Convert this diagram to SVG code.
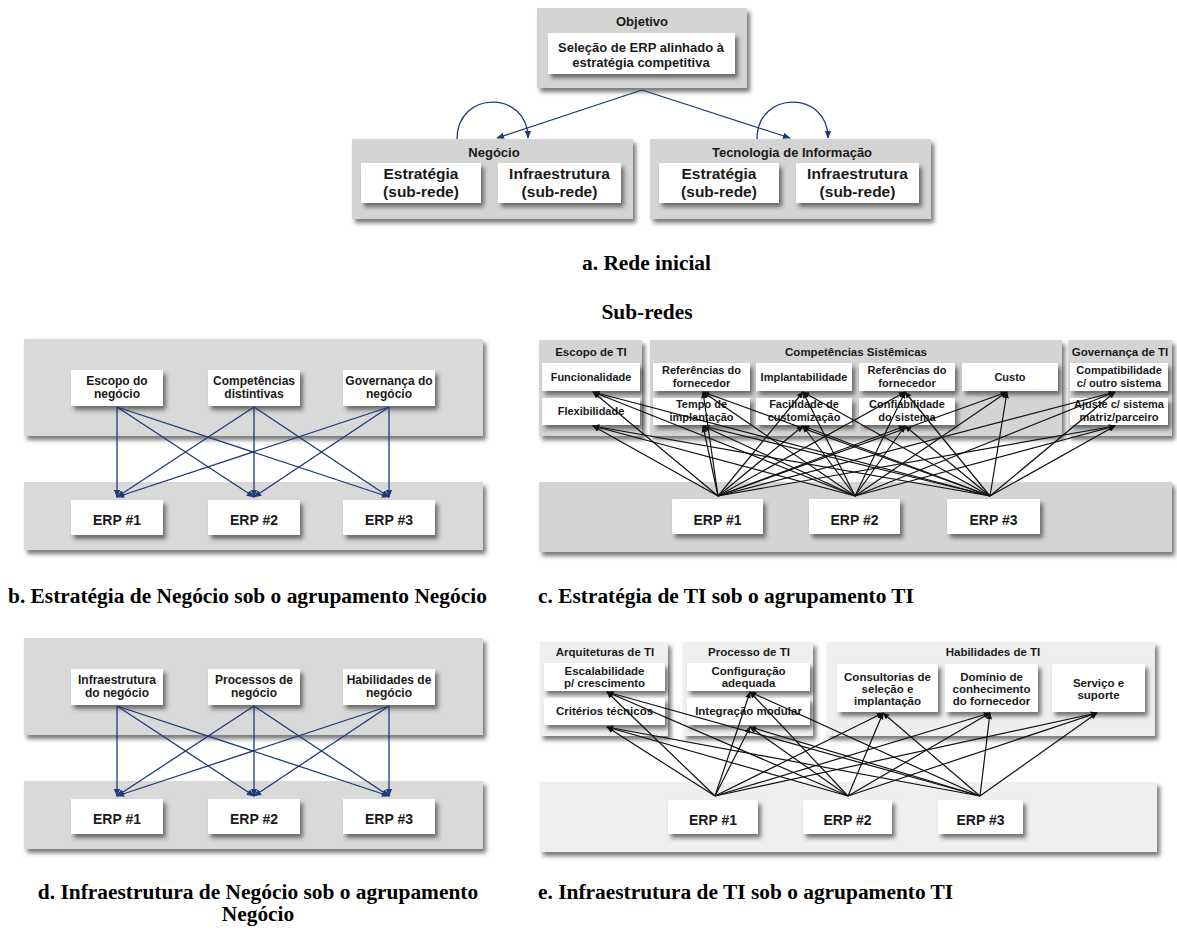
<svg xmlns="http://www.w3.org/2000/svg" width="1177" height="930" viewBox="0 0 1177 930">
<style>
.g{fill:#d4d4d4}
.gb{fill:#d9d9d9}
.ge{fill:#efefef}
.w{fill:#ffffff}
.t{font-family:"Liberation Sans",Arial,sans-serif;font-weight:bold;fill:#1a1a1a;text-anchor:middle}
.cap{font-family:"Liberation Serif","Times New Roman",serif;font-weight:bold;font-size:21.4px;fill:#000}
.nv{stroke:#1f3a78;stroke-width:1.3;fill:none}
.bk{stroke:#111;stroke-width:1.2;fill:none}
</style>
<defs>
<filter id="sh" x="-10%" y="-10%" width="130%" height="140%">
<feDropShadow dx="3" dy="4" stdDeviation="2.2" flood-color="#333" flood-opacity="0.65"/>
</filter>
<marker id="aN" viewBox="0 0 10 10" refX="9" refY="5" markerWidth="8" markerHeight="8" orient="auto" markerUnits="userSpaceOnUse"><path d="M0,1 L10,5 L0,9 z" fill="#1f3a78"/></marker>
<marker id="aK" viewBox="0 0 10 10" refX="9" refY="5" markerWidth="7" markerHeight="7" orient="auto" markerUnits="userSpaceOnUse"><path d="M0,1 L10,5 L0,9 z" fill="#111"/></marker>
</defs>

<!-- ===== a. Rede inicial ===== -->
<g id="objetivo">
<rect class="g" x="537" y="8" width="210" height="80" filter="url(#sh)"/>
<text class="t" x="642" y="25.5" font-size="13">Objetivo</text>
<rect class="w" x="548" y="33" width="187" height="41" filter="url(#sh)"/>
<text class="t" x="641" y="51.5" font-size="13">Seleção de ERP alinhado à</text>
<text class="t" x="641" y="66.5" font-size="13">estratégia competitiva</text>
</g>
<g id="negocio">
<rect class="g" x="352" y="139" width="281" height="80" filter="url(#sh)"/>
<text class="t" x="494" y="156.5" font-size="13">Negócio</text>
<rect class="w" x="361" y="163" width="120" height="40" filter="url(#sh)"/>
<text class="t" x="421" y="178.5" font-size="15.5">Estratégia</text>
<text class="t" x="421" y="197" font-size="15.5">(sub-rede)</text>
<rect class="w" x="498" y="163" width="123" height="40" filter="url(#sh)"/>
<text class="t" x="559.5" y="178.5" font-size="15.5">Infraestrutura</text>
<text class="t" x="559.5" y="197" font-size="15.5">(sub-rede)</text>
</g>
<g id="ti">
<rect class="g" x="650" y="139" width="281" height="80" filter="url(#sh)"/>
<text class="t" x="792" y="156.5" font-size="13">Tecnologia de Informação</text>
<rect class="w" x="659" y="163" width="120" height="40" filter="url(#sh)"/>
<text class="t" x="719" y="178.5" font-size="15.5">Estratégia</text>
<text class="t" x="719" y="197" font-size="15.5">(sub-rede)</text>
<rect class="w" x="796" y="163" width="123" height="40" filter="url(#sh)"/>
<text class="t" x="857.5" y="178.5" font-size="15.5">Infraestrutura</text>
<text class="t" x="857.5" y="197" font-size="15.5">(sub-rede)</text>
</g>
<g id="connectors-a">
<path class="nv" d="M642,90 L497,138" marker-end="url(#aN)"/>
<path class="nv" d="M642,90 L790,138" marker-end="url(#aN)"/>
<path class="nv" d="M457,139 C457,90 528,90 528,138" marker-end="url(#aN)"/>
<path class="nv" d="M757,139 C757,90 828,90 828,138" marker-end="url(#aN)"/>
</g>
<text class="cap" x="646.5" y="270" text-anchor="middle">a. Rede inicial</text>
<text class="cap" x="647" y="319" text-anchor="middle">Sub-redes</text>

<!-- ===== b ===== -->
<g id="b-groups">
<rect class="gb" x="24" y="339" width="459" height="97" filter="url(#sh)"/>
<rect class="gb" x="24" y="482" width="459" height="68" filter="url(#sh)"/>
</g>
<g id="b-escopo"><rect class="w" x="71" y="370" width="92" height="36" filter="url(#sh)"/>
<text class="t" x="117" y="385" font-size="12">Escopo do</text><text class="t" x="117" y="398" font-size="12">negócio</text></g>
<g id="b-competencias"><rect class="w" x="208" y="370" width="92" height="36" filter="url(#sh)"/>
<text class="t" x="254" y="385" font-size="12">Competências</text><text class="t" x="254" y="398" font-size="12">distintivas</text></g>
<g id="b-governanca"><rect class="w" x="343" y="370" width="92" height="36" filter="url(#sh)"/>
<text class="t" x="389" y="385" font-size="12">Governança do</text><text class="t" x="389" y="398" font-size="12">negócio</text></g>
<g id="b-erp1"><rect class="w" x="71" y="500" width="92" height="35" filter="url(#sh)"/><text class="t" x="117" y="525" font-size="14">ERP #1</text></g>
<g id="b-erp2"><rect class="w" x="208" y="500" width="92" height="35" filter="url(#sh)"/><text class="t" x="254" y="525" font-size="14">ERP #2</text></g>
<g id="b-erp3"><rect class="w" x="343" y="500" width="92" height="35" filter="url(#sh)"/><text class="t" x="389" y="525" font-size="14">ERP #3</text></g>
<g id="connectors-b" class="nv">
<path d="M117,407 L117,497" marker-end="url(#aN)"/>
<path d="M117,407 L254,497" marker-end="url(#aN)"/>
<path d="M117,407 L389,497" marker-end="url(#aN)"/>
<path d="M254,407 L117,497" marker-end="url(#aN)"/>
<path d="M254,407 L254,497" marker-end="url(#aN)"/>
<path d="M254,407 L389,497" marker-end="url(#aN)"/>
<path d="M389,407 L117,497" marker-end="url(#aN)"/>
<path d="M389,407 L254,497" marker-end="url(#aN)"/>
<path d="M389,407 L389,497" marker-end="url(#aN)"/>
</g>
<text class="cap" x="8" y="603">b. Estratégia de Negócio sob o agrupamento Negócio</text>

<!-- ===== c ===== -->
<g id="c-groups">
<rect class="g" x="539" y="340" width="103" height="96" filter="url(#sh)"/>
<text class="t" x="591" y="356" font-size="11.5">Escopo de TI</text>
<rect class="g" x="650" y="340" width="412" height="96" filter="url(#sh)"/>
<text class="t" x="856" y="356" font-size="11.5">Competências Sistêmicas</text>
<rect class="g" x="1068" y="340" width="104" height="96" filter="url(#sh)"/>
<text class="t" x="1120" y="356" font-size="11.5">Governança de TI</text>
<rect class="g" x="539" y="482" width="633" height="70" filter="url(#sh)"/>
</g>
<g id="c-funcionalidade"><rect class="w" x="542" y="363" width="98" height="28" filter="url(#sh)"/><text class="t" x="591" y="381" font-size="11">Funcionalidade</text></g>
<g id="c-flexibilidade"><rect class="w" x="542" y="398" width="98" height="27" filter="url(#sh)"/><text class="t" x="591" y="415" font-size="11">Flexibilidade</text></g>
<g id="c-referencias1"><rect class="w" x="653" y="363" width="97" height="28" filter="url(#sh)"/><text class="t" x="701.5" y="374" font-size="11">Referências do</text><text class="t" x="701.5" y="387" font-size="11">fornecedor</text></g>
<g id="c-tempo"><rect class="w" x="653" y="398" width="97" height="27" filter="url(#sh)"/><text class="t" x="701.5" y="408" font-size="11">Tempo de</text><text class="t" x="701.5" y="421" font-size="11">implantação</text></g>
<g id="c-implantabilidade"><rect class="w" x="756" y="363" width="96" height="28" filter="url(#sh)"/><text class="t" x="804" y="381" font-size="11">Implantabilidade</text></g>
<g id="c-facilidade"><rect class="w" x="756" y="398" width="96" height="27" filter="url(#sh)"/><text class="t" x="804" y="408" font-size="11">Facilidade de</text><text class="t" x="804" y="421" font-size="11">customização</text></g>
<g id="c-referencias2"><rect class="w" x="859" y="363" width="96" height="28" filter="url(#sh)"/><text class="t" x="907" y="374" font-size="11">Referências do</text><text class="t" x="907" y="387" font-size="11">fornecedor</text></g>
<g id="c-confiabilidade"><rect class="w" x="859" y="398" width="96" height="27" filter="url(#sh)"/><text class="t" x="907" y="408" font-size="11">Confiabilidade</text><text class="t" x="907" y="421" font-size="11">do sistema</text></g>
<g id="c-custo"><rect class="w" x="962" y="363" width="96" height="28" filter="url(#sh)"/><text class="t" x="1010" y="381" font-size="11">Custo</text></g>
<g id="c-compatibilidade"><rect class="w" x="1070" y="363" width="98" height="28" filter="url(#sh)"/><text class="t" x="1119" y="374" font-size="11">Compatibilidade</text><text class="t" x="1119" y="387" font-size="11">c/ outro sistema</text></g>
<g id="c-ajuste"><rect class="w" x="1070" y="398" width="98" height="27" filter="url(#sh)"/><text class="t" x="1119" y="408" font-size="11">Ajuste c/ sistema</text><text class="t" x="1119" y="421" font-size="11">matriz/parceiro</text></g>
<g id="c-erp1"><rect class="w" x="672" y="499" width="91" height="35" filter="url(#sh)"/><text class="t" x="717.5" y="525" font-size="14">ERP #1</text></g>
<g id="c-erp2"><rect class="w" x="809" y="499" width="91" height="35" filter="url(#sh)"/><text class="t" x="854.5" y="525" font-size="14">ERP #2</text></g>
<g id="c-erp3"><rect class="w" x="947" y="499" width="93" height="35" filter="url(#sh)"/><text class="t" x="993.5" y="525" font-size="14">ERP #3</text></g>
<g id="connectors-c" class="bk">
<path d="M718,496 L593,392" marker-end="url(#aK)"/>
<path d="M718,496 L593,426" marker-end="url(#aK)"/>
<path d="M718,496 L703,392" marker-end="url(#aK)"/>
<path d="M718,496 L703,426" marker-end="url(#aK)"/>
<path d="M718,496 L803,392" marker-end="url(#aK)"/>
<path d="M718,496 L803,426" marker-end="url(#aK)"/>
<path d="M718,496 L905,392" marker-end="url(#aK)"/>
<path d="M718,496 L905,426" marker-end="url(#aK)"/>
<path d="M718,496 L1007,392" marker-end="url(#aK)"/>
<path d="M718,496 L1115,392" marker-end="url(#aK)"/>
<path d="M718,496 L1115,426" marker-end="url(#aK)"/>
<path d="M855,496 L593,392" marker-end="url(#aK)"/>
<path d="M855,496 L593,426" marker-end="url(#aK)"/>
<path d="M855,496 L703,392" marker-end="url(#aK)"/>
<path d="M855,496 L703,426" marker-end="url(#aK)"/>
<path d="M855,496 L803,392" marker-end="url(#aK)"/>
<path d="M855,496 L803,426" marker-end="url(#aK)"/>
<path d="M855,496 L905,392" marker-end="url(#aK)"/>
<path d="M855,496 L905,426" marker-end="url(#aK)"/>
<path d="M855,496 L1007,392" marker-end="url(#aK)"/>
<path d="M855,496 L1115,392" marker-end="url(#aK)"/>
<path d="M855,496 L1115,426" marker-end="url(#aK)"/>
<path d="M990,496 L593,392" marker-end="url(#aK)"/>
<path d="M990,496 L593,426" marker-end="url(#aK)"/>
<path d="M990,496 L703,392" marker-end="url(#aK)"/>
<path d="M990,496 L703,426" marker-end="url(#aK)"/>
<path d="M990,496 L803,392" marker-end="url(#aK)"/>
<path d="M990,496 L803,426" marker-end="url(#aK)"/>
<path d="M990,496 L905,392" marker-end="url(#aK)"/>
<path d="M990,496 L905,426" marker-end="url(#aK)"/>
<path d="M990,496 L1007,392" marker-end="url(#aK)"/>
<path d="M990,496 L1115,392" marker-end="url(#aK)"/>
<path d="M990,496 L1115,426" marker-end="url(#aK)"/>
</g>
<text class="cap" x="538" y="603">c. Estratégia de TI sob o agrupamento TI</text>

<!-- ===== d ===== -->
<g id="d-groups">
<rect class="gb" x="24" y="638" width="459" height="97" filter="url(#sh)"/>
<rect class="gb" x="24" y="781" width="459" height="68" filter="url(#sh)"/>
</g>
<g id="d-infraestrutura"><rect class="w" x="71" y="669" width="92" height="36" filter="url(#sh)"/>
<text class="t" x="117" y="684" font-size="12">Infraestrutura</text><text class="t" x="117" y="697" font-size="12">do negócio</text></g>
<g id="d-processos"><rect class="w" x="208" y="669" width="92" height="36" filter="url(#sh)"/>
<text class="t" x="254" y="684" font-size="12">Processos de</text><text class="t" x="254" y="697" font-size="12">negócio</text></g>
<g id="d-habilidades"><rect class="w" x="343" y="669" width="92" height="36" filter="url(#sh)"/>
<text class="t" x="389" y="684" font-size="12">Habilidades de</text><text class="t" x="389" y="697" font-size="12">negócio</text></g>
<g id="d-erp1"><rect class="w" x="71" y="799" width="92" height="35" filter="url(#sh)"/><text class="t" x="117" y="824" font-size="14">ERP #1</text></g>
<g id="d-erp2"><rect class="w" x="208" y="799" width="92" height="35" filter="url(#sh)"/><text class="t" x="254" y="824" font-size="14">ERP #2</text></g>
<g id="d-erp3"><rect class="w" x="343" y="799" width="92" height="35" filter="url(#sh)"/><text class="t" x="389" y="824" font-size="14">ERP #3</text></g>
<g id="connectors-d" class="nv">
<path d="M117,706 L117,796" marker-end="url(#aN)"/>
<path d="M117,706 L254,796" marker-end="url(#aN)"/>
<path d="M117,706 L389,796" marker-end="url(#aN)"/>
<path d="M254,706 L117,796" marker-end="url(#aN)"/>
<path d="M254,706 L254,796" marker-end="url(#aN)"/>
<path d="M254,706 L389,796" marker-end="url(#aN)"/>
<path d="M389,706 L117,796" marker-end="url(#aN)"/>
<path d="M389,706 L254,796" marker-end="url(#aN)"/>
<path d="M389,706 L389,796" marker-end="url(#aN)"/>
</g>
<text class="cap" x="258" y="899" text-anchor="middle">d. Infraestrutura de Negócio sob o agrupamento</text>
<text class="cap" x="258" y="921" text-anchor="middle">Negócio</text>

<!-- ===== e ===== -->
<g id="e-groups">
<rect class="ge" x="540" y="642" width="128" height="94" filter="url(#sh)"/>
<text class="t" x="605" y="656" font-size="11.5">Arquiteturas de TI</text>
<rect class="ge" x="683" y="642" width="130" height="94" filter="url(#sh)"/>
<text class="t" x="749" y="656" font-size="11.5">Processo de TI</text>
<rect class="ge" x="827" y="642" width="328" height="94" filter="url(#sh)"/>
<text class="t" x="993" y="656" font-size="11.5">Habilidades de TI</text>
<rect class="ge" x="540" y="782" width="617" height="70" filter="url(#sh)"/>
</g>
<g id="e-escalabilidade"><rect class="w" x="544" y="663" width="121" height="28" filter="url(#sh)"/><text class="t" x="604.5" y="675" font-size="11.5">Escalabilidade</text><text class="t" x="604.5" y="687" font-size="11.5">p/ crescimento</text></g>
<g id="e-criterios"><rect class="w" x="544" y="698" width="121" height="27" filter="url(#sh)"/><text class="t" x="604.5" y="715" font-size="11.5">Critérios técnicos</text></g>
<g id="e-configuracao"><rect class="w" x="687" y="663" width="123" height="28" filter="url(#sh)"/><text class="t" x="748.5" y="675" font-size="11.5">Configuração</text><text class="t" x="748.5" y="687" font-size="11.5">adequada</text></g>
<g id="e-integracao"><rect class="w" x="687" y="698" width="123" height="27" filter="url(#sh)"/><text class="t" x="748.5" y="715" font-size="11.5">Integração modular</text></g>
<g id="e-consultorias"><rect class="w" x="837" y="664" width="101" height="48" filter="url(#sh)"/><text class="t" x="887.5" y="681" font-size="11.5">Consultorias de</text><text class="t" x="887.5" y="693" font-size="11.5">seleção e</text><text class="t" x="887.5" y="705" font-size="11.5">implantação</text></g>
<g id="e-dominio"><rect class="w" x="945" y="664" width="93" height="48" filter="url(#sh)"/><text class="t" x="991.5" y="681" font-size="11.5">Domínio de</text><text class="t" x="991.5" y="693" font-size="11.5">conhecimento</text><text class="t" x="991.5" y="705" font-size="11.5">do fornecedor</text></g>
<g id="e-servico"><rect class="w" x="1052" y="664" width="93" height="48" filter="url(#sh)"/><text class="t" x="1098.5" y="687" font-size="11.5">Serviço e</text><text class="t" x="1098.5" y="699" font-size="11.5">suporte</text></g>
<g id="e-erp1"><rect class="w" x="668" y="800" width="90" height="34" filter="url(#sh)"/><text class="t" x="713" y="825" font-size="14">ERP #1</text></g>
<g id="e-erp2"><rect class="w" x="803" y="800" width="89" height="34" filter="url(#sh)"/><text class="t" x="847.5" y="825" font-size="14">ERP #2</text></g>
<g id="e-erp3"><rect class="w" x="938" y="800" width="85" height="34" filter="url(#sh)"/><text class="t" x="980.5" y="825" font-size="14">ERP #3</text></g>
<g id="connectors-e" class="bk">
<path d="M715,796 L607,692" marker-end="url(#aK)"/>
<path d="M715,796 L607,727" marker-end="url(#aK)"/>
<path d="M715,796 L750,692" marker-end="url(#aK)"/>
<path d="M715,796 L750,727" marker-end="url(#aK)"/>
<path d="M715,796 L883,713" marker-end="url(#aK)"/>
<path d="M715,796 L990,713" marker-end="url(#aK)"/>
<path d="M715,796 L1097,713" marker-end="url(#aK)"/>
<path d="M848,796 L607,692" marker-end="url(#aK)"/>
<path d="M848,796 L607,727" marker-end="url(#aK)"/>
<path d="M848,796 L750,692" marker-end="url(#aK)"/>
<path d="M848,796 L750,727" marker-end="url(#aK)"/>
<path d="M848,796 L883,713" marker-end="url(#aK)"/>
<path d="M848,796 L990,713" marker-end="url(#aK)"/>
<path d="M848,796 L1097,713" marker-end="url(#aK)"/>
<path d="M980,796 L607,692" marker-end="url(#aK)"/>
<path d="M980,796 L607,727" marker-end="url(#aK)"/>
<path d="M980,796 L750,692" marker-end="url(#aK)"/>
<path d="M980,796 L750,727" marker-end="url(#aK)"/>
<path d="M980,796 L883,713" marker-end="url(#aK)"/>
<path d="M980,796 L990,713" marker-end="url(#aK)"/>
<path d="M980,796 L1097,713" marker-end="url(#aK)"/>
</g>
<text class="cap" x="538" y="899">e. Infraestrutura de TI sob o agrupamento TI</text>
</svg>
